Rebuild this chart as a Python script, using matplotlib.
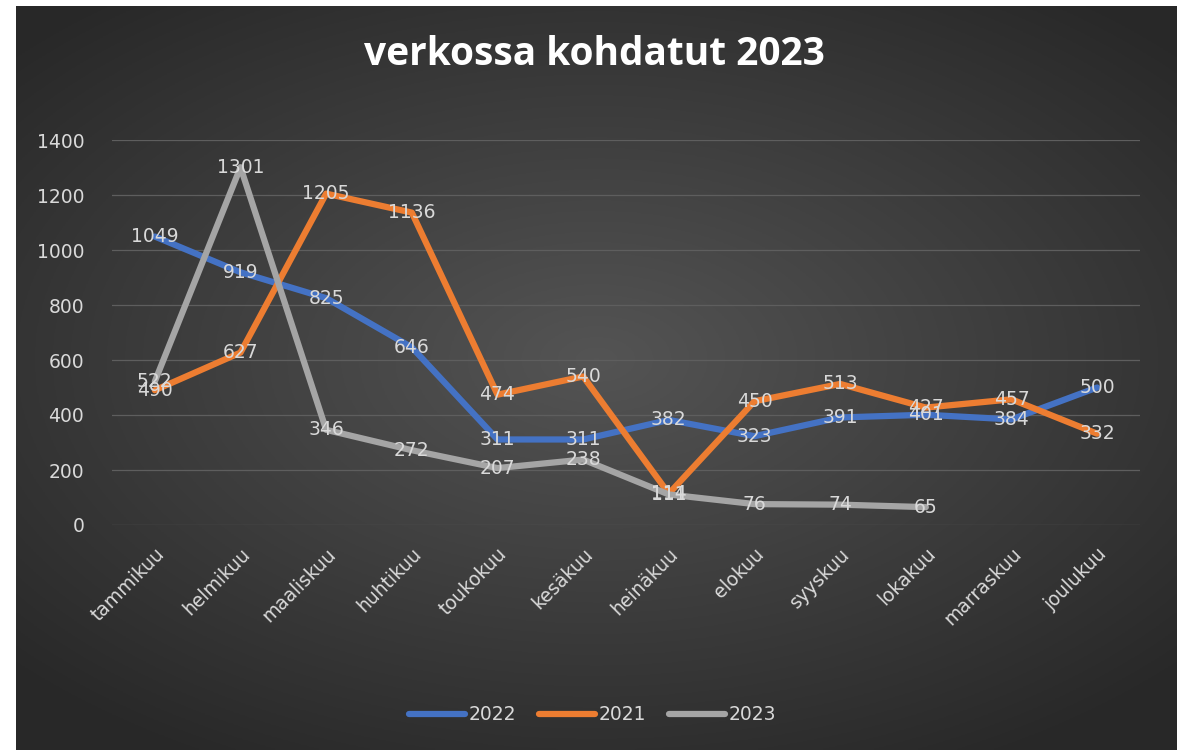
import matplotlib.pyplot as plt
import numpy as np

kuukaudet = ['tammikuu', 'helmikuu', 'maaliskuu', 'huhtikuu', 'toukokuu', 'kesäkuu',
             'heinäkuu', 'elokuu', 'syyskuu', 'lokakuu', 'marraskuu', 'joulukuu']
v2022 = [1049, 919, 825, 646, 311, 311, 382, 323, 391, 401, 384, 500]
v2021 = [490, 627, 1205, 1136, 474, 540, 114, 450, 513, 427, 457, 332]
v2023 = [522, 1301, 346, 272, 207, 238, 111, 76, 74, 65]

fig = plt.figure(figsize=(11.85, 7.5), dpi=100, facecolor='white')

# tausta: tumma säteittäinen liukuväri
bg = fig.add_axes([16 / 1185, 0, 1161 / 1185, 744 / 750])
bg.set_axis_off()
yy, xx = np.mgrid[-1:1:300j, -1:1:400j]
r = np.sqrt((xx * 1.0) ** 2 + ((yy + 0.05) * 1.1) ** 2)
val = 0.33 - 0.17 * np.clip(r / 1.35, 0, 1)
bg.imshow(np.dstack([val, val, val]), aspect='auto', extent=[0, 1, 0, 1])

ax = fig.add_axes([112 / 1185, 225 / 750, 1028 / 1185, 385 / 750])
ax.patch.set_alpha(0)
x = np.arange(len(kuukaudet))

sarjat = [('2022', v2022, '#4472c4'), ('2021', v2021, '#ed7d31'), ('2023', v2023, '#a5a5a5')]
for nimi, arvot, vari in sarjat:
    xs = x[:len(arvot)]
    ax.plot(xs, arvot, color=vari, lw=4.5, solid_capstyle='round', label=nimi, zorder=3)
for nimi, arvot, vari in sarjat:
    for xi, yi in zip(x, arvot):
        ax.text(xi, yi, str(yi), ha='center', va='center', color='#d9d9d9',
                fontsize=13.5, zorder=5)

ax.set_xlim(-0.5, 11.5)
ax.set_ylim(0, 1400)
ax.set_yticks(range(0, 1401, 200))
ax.grid(axis='y', color='#5e5e5e', lw=0.9)
ax.set_axisbelow(True)
for s in ax.spines.values():
    s.set_visible(False)
ax.tick_params(length=0, colors='#d9d9d9', labelsize=13.5)
ax.tick_params(axis='y', pad=20)
ax.set_xticks(x)
ax.set_xticklabels(kuukaudet, rotation=45, ha='right', rotation_mode='anchor')
ax.tick_params(axis='x', pad=14)

fig.text(0.502, 0.927, 'verkossa kohdatut 2023', ha='center', va='center',
         color='white', fontsize=28, fontweight='bold', family='Open Sans')

leg = fig.legend(loc='center', bbox_to_anchor=(0.5, 0.047), ncol=3, frameon=False,
                 fontsize=13.5, handlelength=3.0, columnspacing=1.2, handletextpad=0.2)
for t in leg.get_texts():
    t.set_color('#d9d9d9')

fig.savefig('out.png', dpi=100, facecolor='white')
